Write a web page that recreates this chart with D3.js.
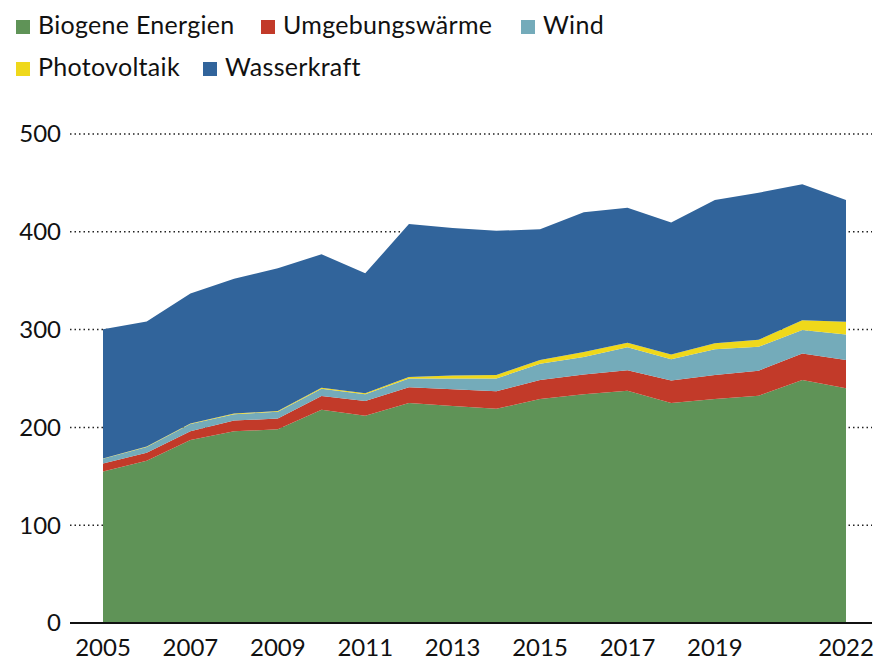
<!DOCTYPE html>
<html>
<head>
<meta charset="utf-8">
<script src="https://cdn.jsdelivr.net/npm/d3@7"></script>
<style>
  body { margin: 0; background: #fff; }
  svg { display: block; font-family: Lato, "Open Sans", sans-serif; }
</style>
</head>
<body>
<script>
// Jahre und Werte
const years = [2005, 2006, 2007, 2008, 2009, 2010, 2011, 2012, 2013, 2014, 2015, 2016, 2017, 2018, 2019, 2020, 2021, 2022];
const biogen = [155, 166, 187, 196, 198, 218, 212, 225, 222, 219, 229, 234, 237.5, 225, 229, 232.4, 248.5, 240];
const umgebung = [8, 8, 9, 11, 11, 14, 15, 16, 17, 18, 19.5, 20, 21, 23, 24.6, 25.6, 27, 29];
const wind = [5, 6, 7.5, 6.5, 7, 7.5, 7, 9, 11, 13, 16.5, 18, 23.5, 21.6, 26.4, 24.5, 24, 26];
const pv = [0.3, 0.4, 0.5, 0.6, 0.8, 1, 1, 1.5, 3, 3.5, 4, 5, 4.5, 5, 6, 7, 10, 13];
const wasser = [132, 128, 133, 138, 146, 136.5, 122.5, 156.5, 151, 147.5, 133.5, 143, 138, 135, 146.5, 150.5, 139, 124.5];

const seriesNames = ["Biogene Energien", "Umgebungswärme", "Wind", "Photovoltaik", "Wasserkraft"];
const colors = ["#5f9357", "#c23a29", "#74abba", "#efd81b", "#31649b"];
const yTicks = [0, 100, 200, 300, 400, 500];
const xTicks = [2005, 2007, 2009, 2011, 2013, 2015, 2017, 2019, 2022];

const width = 875;
const height = 660;

const table = years.map((y, i) => ({
  year: y,
  "Biogene Energien": biogen[i],
  "Umgebungswärme": umgebung[i],
  "Wind": wind[i],
  "Photovoltaik": pv[i],
  "Wasserkraft": wasser[i]
}));

const x = d3.scaleLinear().domain([2005, 2022]).range([103, 846]);
const y = d3.scaleLinear().domain([0, 500]).range([623, 134]);

const svg = d3.select("body").append("svg")
  .attr("width", width)
  .attr("height", height);

// gridlines
svg.append("g")
  .selectAll("line")
  .data(yTicks.filter(d => d > 0))
  .join("line")
  .attr("x1", 70)
  .attr("x2", 872)
  .attr("y1", d => y(d))
  .attr("y2", d => y(d))
  .attr("stroke", "#222")
  .attr("stroke-width", 1.5)
  .attr("stroke-dasharray", "1.5,3");

const stacked = d3.stack().keys(seriesNames)(table);

const area = d3.area()
  .x(d => x(d.data.year))
  .y0(d => y(d[0]))
  .y1(d => y(d[1]));

svg.append("g")
  .selectAll("path")
  .data(stacked)
  .join("path")
  .attr("fill", (d, i) => colors[i])
  .attr("d", area);

// baseline
svg.append("line")
  .attr("x1", 70)
  .attr("x2", 872)
  .attr("y1", y(0))
  .attr("y2", y(0))
  .attr("stroke", "#111")
  .attr("stroke-width", 2);

// y labels
svg.append("g")
  .selectAll("text")
  .data(yTicks)
  .join("text")
  .attr("x", 61)
  .attr("y", d => y(d))
  .attr("dy", "0.35em")
  .attr("text-anchor", "end")
  .attr("font-size", 24)
  .attr("fill", "#111")
  .text(d => d);

// x labels
svg.append("g")
  .selectAll("text")
  .data(xTicks)
  .join("text")
  .attr("x", d => x(d))
  .attr("y", 656)
  .attr("text-anchor", "middle")
  .attr("font-size", 24)
  .attr("fill", "#111")
  .text(d => d);

// legend
const legendPos = [
  { x: 16, y: 34 },
  { x: 261, y: 34 },
  { x: 521, y: 34 },
  { x: 16, y: 76 },
  { x: 203, y: 76 }
];

const legend = svg.append("g")
  .selectAll("g")
  .data(seriesNames)
  .join("g")
  .attr("transform", (d, i) => `translate(${legendPos[i].x},${legendPos[i].y})`);

legend.append("rect")
  .attr("x", 0)
  .attr("y", -14)
  .attr("width", 14)
  .attr("height", 14)
  .attr("fill", (d, i) => colors[i]);

legend.append("text")
  .attr("x", 22)
  .attr("y", 0)
  .attr("font-size", 25)
  .attr("letter-spacing", 0.3)
  .attr("fill", "#111")
  .text(d => d);
</script>
</body>
</html>
